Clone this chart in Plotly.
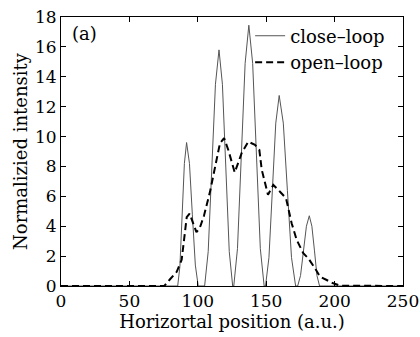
import plotly.graph_objects as go

# Close-loop (thin gray) curve
close_x = [0, 85.3, 86.9, 88.5, 90.2, 91.8, 93.9, 96.0, 98.2, 100.3,
           105.0, 107.6, 110.2, 112.9, 115.5, 118.0, 120.5, 123.0, 125.5,
           126.3, 129.0, 131.8, 134.6, 137.3, 140.1, 142.9, 145.7, 148.5,
           149.5, 152.0, 154.5, 157.0, 159.5, 162.5, 165.5, 168.5, 171.5,
           173.0, 175.1, 177.2, 179.4, 181.5, 183.4, 185.3, 187.1, 189.0, 250]
close_y = [0, 0, 1.3, 4.8, 8.2, 9.6, 8.2, 4.8, 1.4, 0,
           0, 2.3, 7.9, 13.5, 15.8, 13.5, 7.9, 2.3, 0,
           0, 2.5, 8.7, 14.9, 17.45, 14.9, 8.7, 2.5, 0,
           0, 1.9, 6.4, 10.9, 12.75, 10.9, 6.4, 1.9, 0,
           0, 0.7, 2.35, 4.0, 4.7, 4.0, 2.35, 0.7, 0, 0]

# Open-loop (dashed black) curve
open_x = [0, 75.5, 79.7, 84.6, 88.2, 89.9, 91.9, 94.0, 96.7, 99.0, 101.5,
          104.5, 108.9, 112.6, 116.2, 119.2, 122.3, 127.0, 132.1, 136.9,
          141.8, 145.0, 146.7, 151.3, 155.2, 160.1, 164.5, 168.6, 172.3,
          177.1, 180.8, 185.7, 189.3, 194.2, 199.0, 204.0, 250]
open_y = [0, 0, 0.45, 0.95, 1.75, 2.9, 4.6, 4.85, 4.2, 3.6, 3.9,
          4.7, 6.3, 8.0, 9.55, 9.9, 9.1, 7.6, 8.9, 9.66,
          9.44, 9.1, 7.8, 6.1, 6.76, 6.31, 5.87, 4.2, 3.08,
          2.19, 1.85, 1.18, 0.62, 0.4, 0.18, 0.02, 0]

x_ticks = [0, 50, 100, 150, 200, 250]
y_ticks = [0, 2, 4, 6, 8, 10, 12, 14, 16, 18]

FONT = "DejaVu Serif"

fig = go.Figure()
fig.add_trace(go.Scatter(x=close_x, y=close_y, mode="lines", name="close\u2013loop",
                         line=dict(color="#555555", width=1)))
fig.add_trace(go.Scatter(x=open_x, y=open_y, mode="lines", name="open\u2013loop",
                         line=dict(color="black", width=2, dash="7px,4px")))

axis_common = dict(showline=True, linecolor="black", linewidth=1, mirror="ticks",
                   ticks="inside", ticklen=5, tickcolor="black", showgrid=False,
                   zeroline=False, automargin=False,
                   tickfont=dict(family=FONT, size=17, color="black"))

fig.update_xaxes(range=[0, 250], tickvals=x_ticks,
                 title=dict(text="Horizortal position (a.u.)",
                            font=dict(family=FONT, size=18, color="black"), standoff=2),
                 **axis_common)
fig.update_yaxes(range=[0, 18], tickvals=y_ticks,
                 title=dict(text="Normalizied intensity",
                            font=dict(family=FONT, size=18, color="black"), standoff=2),
                 **axis_common)

fig.add_annotation(text="(a)", xref="paper", yref="paper", x=0.025, y=0.985,
                   xanchor="left", yanchor="top", showarrow=False,
                   font=dict(family=FONT, size=18, color="black"))

fig.update_layout(
    width=420, height=337,
    margin=dict(l=61, r=17, t=17, b=51),
    paper_bgcolor="white", plot_bgcolor="white",
    showlegend=True,
    legend=dict(x=0.553, y=0.998, xanchor="left", yanchor="top",
                bgcolor="rgba(0,0,0,0)", borderwidth=0,
                font=dict(family=FONT, size=18, color="black"),
                tracegroupgap=0, itemwidth=30),
)

fig.write_html("out.html", config={"displayModeBar": False},
               post_script="document.body.style.margin='0';")
